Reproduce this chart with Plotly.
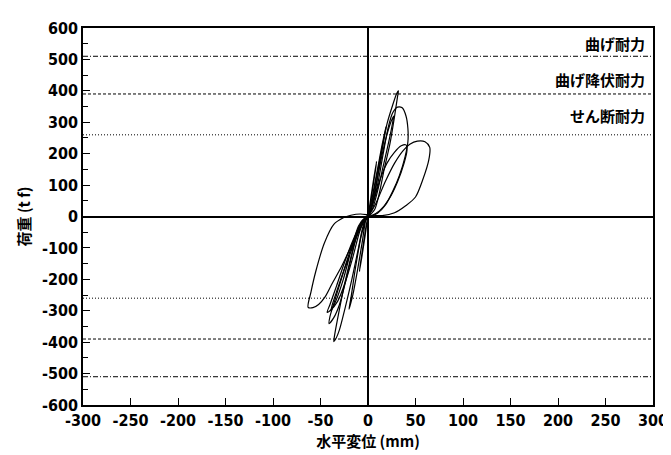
import plotly.graph_objects as go

# Hysteresis cycles (horizontal displacement mm, load tf)
cyc1_x = [0, 3, 6, 9, 8, 5, 2, 0, -3, -6, -9, -8, -5, -2, 0]
cyc1_y = [0, 60, 120, 175, 150, 90, 30, 0, -60, -120, -175, -150, -90, -30, 0]

cyc2_x = [0, 5, 10, 15, 19, 17, 12, 7, 2, -2, -6, -11, -16, -20, -18, -13, -7, -2, 2]
cyc2_y = [0, 70, 150, 230, 285, 250, 160, 70, 12, -8, -80, -170, -250, -295, -260, -160, -60, -8, 10]

cyc2b_x = [2, 7, 13, 19, 24, 27, 26, 22, 16, 10, 4, -3, -9, -16, -24, -32, -40, -43, -40, -33, -24, -15, -7, 0]
cyc2b_y = [10, 80, 170, 250, 300, 320, 300, 240, 160, 80, 20, -5, -50, -130, -210, -270, -300, -305, -280, -220, -140, -70, -20, 0]

cyc3_x = [2, 8, 14, 20, 26, 30, 32, 31, 28, 23, 17, 12, 7, 2, -4, -10, -17, -24, -30, -34, -36, -35, -31, -25, -18, -11, -4, 0]
cyc3_y = [10, 110, 205, 295, 355, 390, 400, 380, 320, 230, 150, 75, 22, 4, -20, -100, -200, -290, -360, -390, -398, -375, -310, -220, -130, -50, -10, 0]

cyc4_x = [0, 5, 10, 16, 21, 26, 31, 36, 40, 42, 42, 39, 33, 26, 18, 10, 3, -5, -10, -16, -23, -30, -36, -41, -40, -35, -28, -20, -13, -6, 0]
cyc4_y = [0, 40, 100, 200, 280, 330, 348, 346, 320, 280, 238, 190, 130, 80, 35, 10, 0, -10, -40, -110, -200, -280, -322, -341, -318, -268, -198, -120, -60, -15, 0]

cyc4b_x = [0, 6, 13, 20, 28, 35, 40, 41, 38, 31, 22, 12, 4, -4, -10, -18, -26, -34, -39, -38, -32, -24, -15, -7, 0]
cyc4b_y = [0, 50, 120, 170, 205, 225, 228, 210, 170, 110, 55, 18, 3, -6, -30, -110, -200, -270, -300, -285, -230, -160, -90, -30, 0]

cyc5_x = [0, 8, 18, 28, 37, 44, 52, 60, 65, 64, 58, 50, 40, 28, 15, 3, -8, -18, -26, -36, -46, -55, -60, -63, -58, -52, -45, -38, -28, -20, -12, -6, 0]
cyc5_y = [0, 40, 110, 170, 210, 230, 240, 238, 220, 180, 120, 62, 35, 12, 3, 4, 8, 4, -4, -25, -85, -175, -240, -289, -290, -280, -255, -215, -160, -110, -60, -25, 0]

cycles = [(cyc1_x, cyc1_y), (cyc2_x, cyc2_y), (cyc2b_x, cyc2b_y), (cyc3_x, cyc3_y),
          (cyc4_x, cyc4_y), (cyc4b_x, cyc4b_y), (cyc5_x, cyc5_y)]

# Capacity reference levels (tf)
cap_levels = [510, 390, 260]
cap_labels = ["曲げ耐力", "曲げ降伏耐力", "せん断耐力"]
cap_label_y = [552, 436, 322]
cap_dash = ["5px,2px,1px,2px", "3px,2px", "1px,2px"]

x_ticks = [-300, -250, -200, -150, -100, -50, 0, 50, 100, 150, 200, 250, 300]
y_ticks = [-600, -500, -400, -300, -200, -100, 0, 100, 200, 300, 400, 500, 600]

fig = go.Figure()

for lvl, dsh in zip(cap_levels, cap_dash):
    for s in (1, -1):
        fig.add_trace(go.Scatter(x=[-300, 300], y=[s * lvl, s * lvl], mode="lines",
                                 line=dict(color="black", width=1, dash=dsh),
                                 showlegend=False, hoverinfo="skip"))

for cx, cy in cycles:
    fig.add_trace(go.Scatter(x=cx, y=cy, mode="lines",
                             line=dict(color="black", width=1.2, shape="spline", smoothing=0.8),
                             showlegend=False))

for lab, ly in zip(cap_labels, cap_label_y):
    fig.add_annotation(x=1, xref="paper", y=ly, yref="y", text=lab, showarrow=False,
                       xanchor="right", xshift=-6,
                       font=dict(family="Noto Sans CJK JP", size=15, color="black", weight="bold"))

tickfont = dict(family="DejaVu Sans Condensed, DejaVu Sans, sans-serif", size=16,
                color="black", weight="bold")
titlefont = dict(family="Noto Sans CJK JP", size=15, color="black", weight="bold")

fig.update_xaxes(range=[-300, 300], tickvals=x_ticks, ticktext=[str(v) for v in x_ticks],
                 ticks="inside", ticklen=7, tickwidth=1.2, tickcolor="black",
                 showgrid=False, showline=True, linecolor="black", linewidth=1.5, mirror=True,
                 zeroline=True, zerolinecolor="black", zerolinewidth=1.5,
                 tickfont=tickfont,
                 title=dict(text="水平変位 (mm)", standoff=4, font=titlefont))
fig.update_yaxes(range=[-600, 600], tickvals=y_ticks, ticktext=[str(v) for v in y_ticks],
                 ticks="inside", ticklen=7, tickwidth=1.2, tickcolor="black",
                 minor=dict(dtick=50, ticks="inside", ticklen=5, tickcolor="black"),
                 showgrid=False, showline=True, linecolor="black", linewidth=1.5, mirror=True,
                 zeroline=True, zerolinecolor="black", zerolinewidth=1.5,
                 tickfont=tickfont,
                 title=dict(text="荷重 (t f)", standoff=8, font=titlefont))

fig.update_layout(width=671, height=447, margin=dict(l=75, r=19, t=11, b=50),
                  paper_bgcolor="white", plot_bgcolor="white")

fig.write_html("out.html")
